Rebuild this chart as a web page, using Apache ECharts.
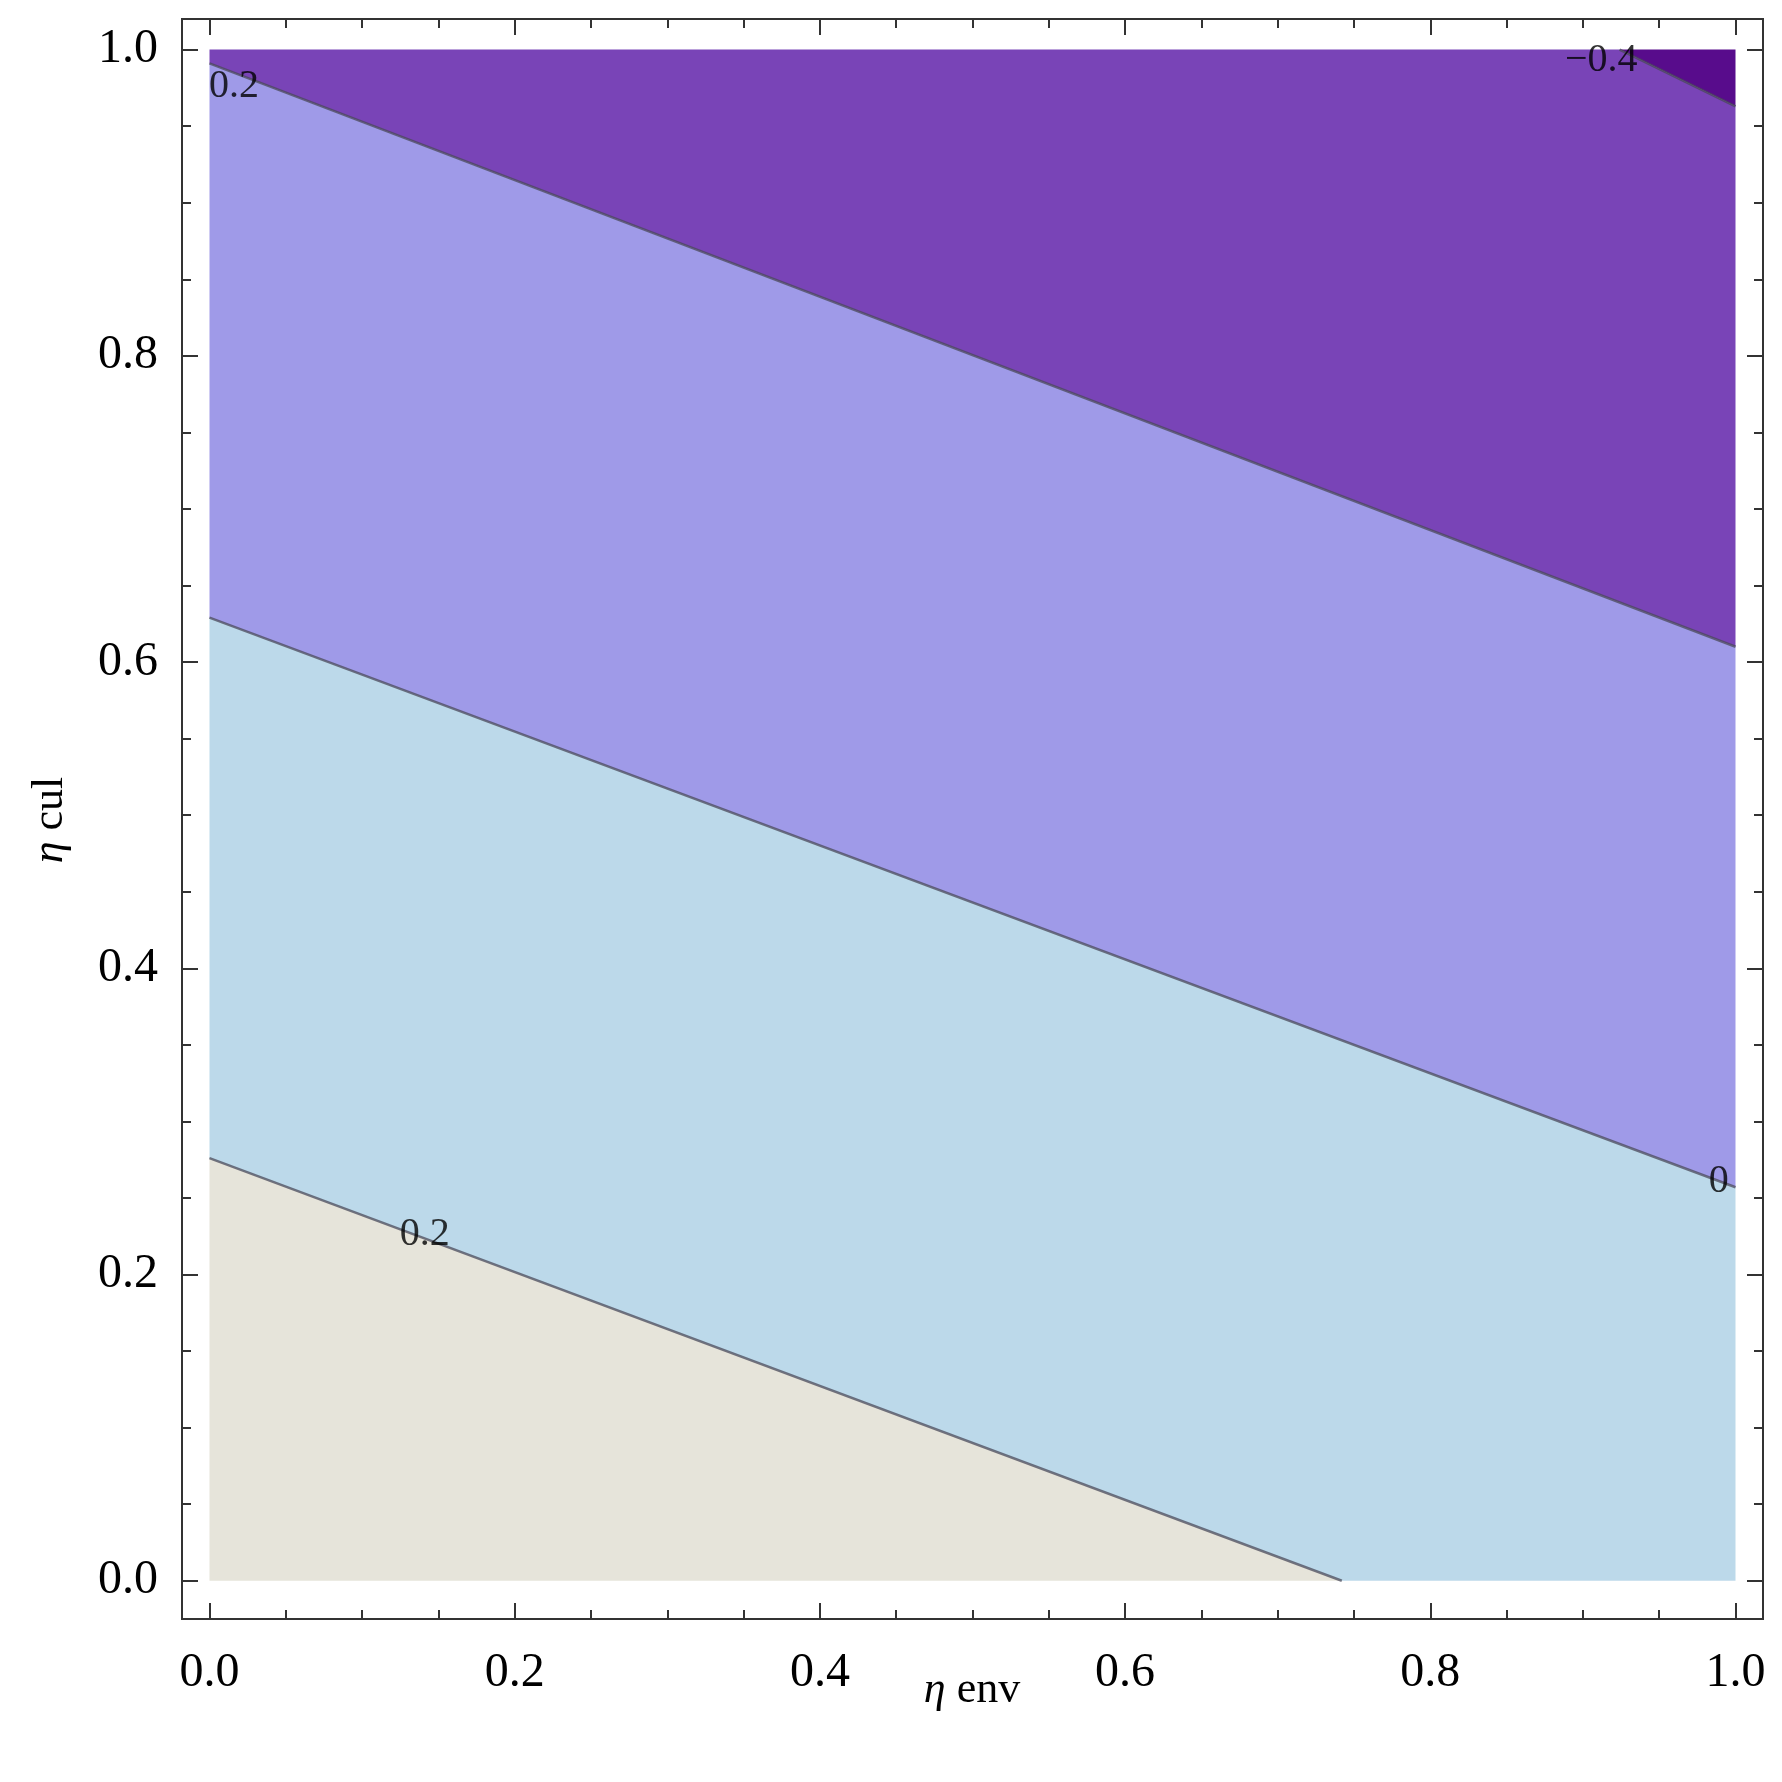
<!DOCTYPE html>
<html><head><meta charset="utf-8">
<script src="https://cdn.jsdelivr.net/npm/echarts@6/dist/echarts.min.js"></script>
<style>html,body{margin:0;background:#fff}#c{width:1782px;height:1782px}</style>
</head><body><div id="c"></div>
<script>
// contour lines [x,y] endpoints
const contour02  = [[0,0.276],[0.742,0]];
const contour0   = [[0,0.629],[1,0.257]];
const contourM02 = [[0,0.991],[1,0.610]];
const contourM04 = [[0.924,1],[1,0.963]];
const contourLabels = [
  {text:'0.2', pos:[0.141,0.226]},
  {text:'0', pos:[0.989,0.261]},
  {text:'0.2', pos:[0.016,0.976]},
  {text:'\u22120.4', pos:[0.912,0.993]}
];
const regionColors = ['#e6e4da','#bcd9ea','#9f9ae8','#7944b7','#580c8c'];
const majorTicks = [0,0.2,0.4,0.6,0.8,1.0];
const minorTicks = [0,0.05,0.1,0.15,0.2,0.25,0.3,0.35,0.4,0.45,0.5,0.55,0.6,0.65,0.7,0.75,0.8,0.85,0.9,0.95,1.0];

const regions = [
  [[0,0],contour02[1],contour02[0]],
  [contour02[0],contour02[1],[1,0],contour0[1],contour0[0]],
  [contour0[0],contour0[1],contourM02[1],contourM02[0]],
  [contourM02[0],contourM02[1],contourM04[1],contourM04[0],[0,1]],
  [contourM04[0],[1,1],contourM04[1]]
];

const XMIN=-0.018,XMAX=1.018,YMIN=-0.025,YMAX=1.02;
const font='Liberation Serif';
function mkAxis(type,pos,vals,len,labels){
  return {type:'value',position:pos,min:type==='x'?XMIN:YMIN,max:type==='x'?XMAX:YMAX,
    axisLine:{show:true,onZero:false,lineStyle:{color:'#333',width:2}},
    splitLine:{show:false},
    axisTick:{show:true,inside:true,length:len,customValues:vals,lineStyle:{color:'#333',width:2}},
    axisLabel:labels?{show:true,customValues:majorTicks,formatter:v=>v.toFixed(1),fontFamily:font,fontSize:48,color:'#000',margin:type==='x'?30:24}:{show:false}};
}
const xAxis=[mkAxis('x','bottom',majorTicks,16,true),mkAxis('x','bottom',minorTicks,9,false),
             mkAxis('x','top',majorTicks,16,false),mkAxis('x','top',minorTicks,9,false)];
const yAxis=[mkAxis('y','left',majorTicks,16,true),mkAxis('y','left',minorTicks,9,false),
             mkAxis('y','right',majorTicks,16,false),mkAxis('y','right',minorTicks,9,false)];

const series=[{
  type:'custom',xAxisIndex:0,yAxisIndex:0,
  data:regions.map((r,i)=>i),
  renderItem:(params,api)=>{
    const i=api.value(0);
    return {type:'polygon',shape:{points:regions[i].map(p=>api.coord(p))},style:{fill:regionColors[i]}};
  },silent:true
}];
[contour02,contour0,contourM02,contourM04].forEach(c=>series.push({
  type:'line',data:c,symbol:'none',lineStyle:{color:'#4a4a5a',width:2.5,opacity:0.75},silent:true,z:3}));
series.push({type:'scatter',symbolSize:0,z:5,data:contourLabels.map(l=>({value:l.pos,name:l.text})),
  label:{show:true,position:'inside',formatter:p=>p.name,fontFamily:font,fontSize:40,color:'#000'}});

const chart=echarts.init(document.getElementById('c'));
chart.setOption({
  animation:false,
  grid:{left:182,right:19,top:19,bottom:163},
  xAxis,yAxis,series,
  graphic:[
    {type:'text',x:972,y:1690,style:{text:'{i|\u03b7} env',rich:{i:{fontStyle:'italic',fontFamily:font,fontSize:44}},fontFamily:font,fontSize:44,fill:'#000',align:'center',verticalAlign:'middle'}},
    {type:'text',x:50,y:820,rotation:Math.PI/2,style:{text:'{i|\u03b7} cul',rich:{i:{fontStyle:'italic',fontFamily:font,fontSize:44}},fontFamily:font,fontSize:44,fill:'#000',align:'center',verticalAlign:'middle'}}
  ]
});
</script></body></html>
